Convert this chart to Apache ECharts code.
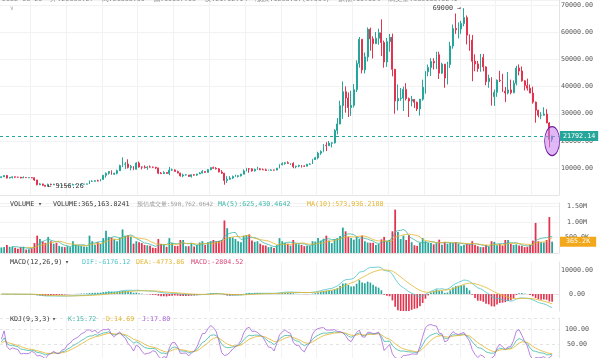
<!DOCTYPE html>
<html>
<head>
<meta charset="utf-8">
<title>BTC/USDT weekly</title>
<script src="https://cdn.jsdelivr.net/npm/echarts@6.0.0/dist/echarts.min.js"></script>
<style>
html,body{margin:0;padding:0;background:#ffffff;}
#chart{width:600px;height:358px;}
</style>
</head>
<body>
<div id="chart"></div>
<script>
// ---------------- data ----------------
const startDate = '2018-08-20';           // first weekly candle
// [open, high, low, close]
const candles = [
[6480,6880,6260,6700],[6700,7200,6660,7190],[7190,7410,6100,6250],[6250,6600,6150,6520],[6520,6820,6100,6700],
[6700,6800,6350,6580],[6580,6700,6450,6560],[6560,6700,6150,6300],[6300,6900,6300,6450],[6450,6500,6350,6400],
[6400,6500,6250,6400],[6400,6600,6200,6350],[6350,6500,5200,5550],[5550,5600,3550,3800],[3800,4400,3650,4100],
[4100,4150,3300,3600],[3600,3600,3156.26,3200],[3200,4200,3200,3950],[3950,4200,3550,3800],[3800,4100,3650,4050],
[4050,4100,3450,3550],[3550,3700,3500,3550],[3550,3650,3450,3550],[3550,3560,3350,3450],[3450,3700,3380,3650],
[3650,3700,3550,3650],[3650,4200,3650,3850],[3850,3950,3700,3850],[3850,3950,3700,3900],[3900,4050,3800,4000],
[4000,4100,3900,4000],[4000,4150,3950,4100],[4100,5350,4100,5050],[5050,5450,4950,5050],[5050,5400,5000,5300],
[5300,5650,5050,5150],[5150,5900,5100,5750],[5750,7400,5650,7250],[7250,8350,6400,8000],[8000,8800,7500,8700],
[8700,9100,7450,7650],[7650,8250,7450,8000],[8000,9350,7600,8950],[8950,11200,8950,10850],[10850,13880,10300,11350],
[11350,12200,9600,11450],[11450,13200,9800,10200],[10200,11100,9100,10550],[10550,10700,9150,9500],[9500,12100,9400,11800],
[11800,12350,10100,10350],[10350,10550,9450,10300],[10300,10950,9750,10150],[10150,10650,9300,10350],[10350,10900,10150,10300],
[10300,10450,9950,10280],[10280,10350,9600,10000],[10000,10050,7700,8050],[8050,8500,7750,7870],[7870,8800,7800,8300],
[8300,8400,7850,7950],[7950,10370,7300,9200],[9200,9800,8900,9250],[9250,9500,8700,8700],[8700,9000,8050,8100],
[8100,8200,6800,7050],[7050,7900,6550,7400],[7400,7750,7200,7400],[7400,7400,6800,6850],[6850,7550,6430,7500],
[7500,7700,7100,7350],[7350,7850,7050,7750],[7750,8450,7750,8100],[8100,9200,8000,8650],[8650,8700,8250,8350],
[8350,9600,8300,9350],[9350,10150,9150,10100],[10100,10500,9700,9900],[9900,10300,9450,9650],[9650,9950,8400,8500],
[8500,9180,7800,8050],[8050,8150,3800,5350],[5350,6950,4450,5800],[5800,6950,5700,6250],[6250,7200,5900,6800],
[6800,7480,6700,6850],[6850,7300,6450,7100],[7100,7800,6800,7700],[7700,9450,7650,8900],[8900,10050,8700,9700],
[9700,9950,8200,9650],[9650,9850,8650,8900],[8900,9750,8650,9450],[9450,10400,9300,9650],[9650,10000,9150,9350],
[9350,9800,9200,9300],[9300,9750,8850,9050],[9050,9350,8950,9100],[9100,9480,9050,9250],[9250,9300,9000,9200],
[9200,10000,9150,9900],[9900,11400,9900,11200],[11200,12050,10950,11650],[11650,12200,11150,11900],[11900,12450,11500,11650],
[11650,11800,11100,11700],[11700,12100,9900,10450],[10450,10800,9850,10650],[10650,11150,10250,10950],[10950,10950,10150,10700],
[10700,10950,10400,10650],[10650,11500,10550,11350],[11350,11700,11200,11450],[11450,13350,11450,13100],[13100,14100,12950,13750],
[13750,15950,13200,15450],[15450,16500,14800,16100],[16100,18800,15800,18350],[18350,19500,16200,18200],[18200,19900,18100,19150],
[19150,19450,17600,19250],[19250,24300,19000,23850],[23850,28400,22350,26250],[26250,34800,26100,33000],[33000,41950,28100,38150],
[38150,40100,30400,35800],[35800,37850,28800,32300],[32300,38500,29200,33100],[33100,40950,32300,38900],[38900,49700,38000,48600],
[48600,58350,47000,57500],[57500,57550,44900,46200],[46200,52600,44900,51000],[51000,61850,49300,61200],[61200,61800,53300,57650],
[57650,58600,50400,55900],[55900,60200,55700,57900],[57900,61400,55500,59900],[59900,64850,51300,56300],[56300,57000,47000,49100],
[49100,58000,47300,56600],[56600,59500,52900,58250],[58250,59600,43800,46400],[46400,46600,30000,34700],[34700,40850,31200,35650],
[35650,39500,34800,35800],[35800,40000,31000,39000],[39000,41300,34900,35600],[35600,36000,28800,34700],[34700,36600,32700,35300],
[35300,35400,32100,34250],[34250,34500,31000,31800],[31800,35450,29300,35400],[35400,42600,34800,39800],[39800,45850,37400,45500],
[45500,48150,43800,47100],[47100,50500,43950,49300],[49300,50500,46350,48800],[48800,52900,46500,51800],[51800,52900,42850,45000],
[45000,48850,44700,48300],[48300,48400,39600,43200],[43200,49200,40800,48200],[48200,56550,46900,55000],[55000,62950,54000,61500],
[61500,67000,59500,61000],[61000,63700,57800,61300],[61300,64300,59500,63300],[63300,69000,62300,65500],[65500,66300,55600,59000],
[59000,59300,53250,57200],[57200,59100,42000,49400],[49400,51950,45700,48400],[48400,49500,45500,46700],[46700,52100,45500,50800],
[50800,52100,45650,47300],[47300,47500,40500,41850],[41850,44450,39600,43100],[43100,43500,33000,36300],[36300,38950,32900,37900],
[37900,42650,36250,42400],[42400,45850,41700,42200],[42200,44750,38000,38350],[38350,39850,34300,37700],[37700,45400,37150,38800],
[38800,42600,37150,37800],[37800,42350,37550,41300],[41300,47700,40450,46850],[46850,48200,44200,45800],[45800,47450,41850,42150],
[42150,42400,38600,40400],[40400,42950,38550,39450],[39450,40800,37600,37650],[37650,40000,33700,34300],[34300,34500,26700,31300],
[31300,31450,28650,29450],[29450,30600,28000,29450],[29450,32400,29300,29900],[29900,31700,26550,26600],[26600,26900,17600,20550],
[20550,21900,19650,21792.14]
];
// weekly volume, thousands of BTC
const volumesK = [
180,190,260,200,210,170,140,190,200,110,
120,150,320,560,450,380,330,520,380,300,
330,230,200,190,220,190,380,260,250,230,
210,200,560,380,270,350,290,480,720,520,
500,440,380,500,760,560,580,520,300,380,
350,320,260,250,230,170,160,450,290,270,
200,480,330,230,230,420,420,220,220,320,
210,260,340,380,260,350,380,420,380,390,
420,1050,800,520,500,450,380,350,560,580,
600,400,360,380,300,250,240,190,200,160,
250,480,380,330,300,240,420,300,280,260,
220,230,230,380,370,480,400,460,560,400,
320,450,480,550,820,700,520,480,430,520,
450,560,380,340,330,330,260,290,440,520,
390,420,700,1400,680,450,560,420,580,350,
250,230,330,480,380,330,320,280,330,430,
270,350,300,330,330,350,300,230,260,300,
280,380,260,220,190,190,260,210,380,360,
250,290,240,420,420,290,260,280,240,230,
190,200,260,400,970,380,350,340,420,1160,
365.1638241
];
const lastPrice = 21792.14;
const lastVolumeK = 365.1638241;
const highMark = 69000;
const lowMark = 3156.26;
const priceTicks = [10000, 20000, 30000, 40000, 50000, 60000, 70000];
const volumeTicksK = [500, 1000, 1500];
const macdTicks = [0, 10000];
const kdjTicks = [50, 100];
const mainHeader = '2022-06-20  开:20553.27  高:21868.00  低:19637.03  收:21792.14  涨跌:1238.87(6.03%)  振幅:10.60%  成交量:365163.8241';
const volumeHeader = ['VOLUME', '▾', 'VOLUME:365,163.8241', '预估成交量:598,762.0642', 'MA(5):625,430.4642', 'MA(10):573,936.2108'];
const macdHeader = ['MACD(12,26,9)', '▾', 'DIF:-6176.12', 'DEA:-4773.86', 'MACD:-2804.52'];
const kdjHeader = ['KDJ(9,3,3)', '▾', 'K:15.72', 'D:14.69', 'J:17.80'];

// ---------------- derived ----------------
const N = candles.length;
const categories = [];
const t0 = new Date(startDate + 'T00:00:00Z').getTime();
for (let i = 0; i < N; i++) categories.push(new Date(t0 + i * 7 * 86400000).toISOString().slice(0, 10));
categories.push('pad-1', 'pad-2');

const opens = candles.map(c => c[0]);
const highs = candles.map(c => c[1]);
const lows = candles.map(c => c[2]);
const closes = candles.map(c => c[3]);

function ema(arr, n) {
  const k = 2 / (n + 1), out = [];
  arr.forEach((v, i) => out.push(i === 0 ? v : out[i - 1] * (1 - k) + v * k));
  return out;
}
function ma(arr, n) {
  return arr.map((_, i) => {
    if (i < n - 1) return '-';
    let s = 0; for (let j = i - n + 1; j <= i; j++) s += arr[j];
    return s / n;
  });
}
const e12 = ema(closes, 12), e26 = ema(closes, 26);
const dif = closes.map((_, i) => e12[i] - e26[i]);
const dea = ema(dif, 9);
const macd = dif.map((d, i) => 2 * (d - dea[i]));

const kArr = [], dArr = [], jArr = [];
let pk = 50, pd = 50;
for (let i = 0; i < N; i++) {
  let lo = Infinity, hi = -Infinity;
  for (let j = Math.max(0, i - 8); j <= i; j++) { lo = Math.min(lo, lows[j]); hi = Math.max(hi, highs[j]); }
  const rsv = hi === lo ? 50 : (closes[i] - lo) / (hi - lo) * 100;
  const k = (2 * pk + rsv) / 3, d = (2 * pd + k) / 3;
  kArr.push(k); dArr.push(d); jArr.push(3 * k - 2 * d);
  pk = k; pd = d;
}
const ma5 = ma(volumesK, 5), ma10 = ma(volumesK, 10);

const UP = '#26a69a', DOWN = '#e2344f';
const TEAL = '#3bb8a8', YELLOW = '#e3b52b', PURPLE = '#a763d8', PINK = '#d9467a', CYAN = '#4ec3c9';
const FONT = "'DejaVu Sans Mono', monospace";
const FS = 6.7;

const candleData = candles.map(c => [c[0], c[3], c[2], c[1]]);
const volData = volumesK.map((v, i) => ({ value: v, itemStyle: { color: closes[i] >= opens[i] ? UP : DOWN } }));

const gridsPos = [
  { top: 0, height: 195 },
  { top: 203, height: 50 },
  { top: 262, height: 49 },
  { top: 318, height: 48 }
];

const xAxes = gridsPos.map((g, i) => ({
  type: 'category', gridIndex: i, data: categories, boundaryGap: true,
  axisLabel: { show: false }, axisTick: { show: false },
  axisLine: { show: true, lineStyle: { color: '#e6e6e6', width: 1 } },
  splitLine: { show: true, interval: (idx) => idx % 13 === 11, lineStyle: { color: '#f2f2f2', width: 1 } }
}));

const labelBase = { color: '#555', fontSize: FS, fontFamily: FONT, margin: 18, align: 'center' };
const yLine = { show: true, lineStyle: { color: '#e3e3e3', width: 1 } };

const yAxes = [
  { type: 'value', gridIndex: 0, position: 'right', min: 0, max: 72000, interval: 10000,
    axisLine: yLine, axisTick: { show: false },
    axisLabel: Object.assign({}, labelBase, { showMinLabel: false, showMaxLabel: false, formatter: v => priceTicks.includes(v) ? v.toFixed(2) : '' }),
    splitLine: { show: true, lineStyle: { color: '#f2f2f2' } } },
  { type: 'value', gridIndex: 1, position: 'right', min: 0, max: 1613, interval: 500,
    axisLine: yLine, axisTick: { show: false },
    axisLabel: Object.assign({}, labelBase, { showMinLabel: false, showMaxLabel: false,
      formatter: v => !volumeTicksK.includes(v) ? '' : (v >= 1000 ? (v / 1000).toFixed(2) + 'M' : v.toFixed(1) + 'K') }),
    splitLine: { show: true, lineStyle: { color: '#f2f2f2' } } },
  { type: 'value', gridIndex: 2, position: 'right', min: -7000, max: 13300,
    axisLine: yLine, axisTick: { show: false, customValues: macdTicks },
    axisLabel: Object.assign({}, labelBase, { customValues: macdTicks, formatter: v => v.toFixed(2) }),
    splitLine: { show: false } },
  { type: 'value', gridIndex: 3, position: 'right', min: 0, max: 141, interval: 50,
    axisLine: yLine, axisTick: { show: false },
    axisLabel: Object.assign({}, labelBase, { showMinLabel: false, showMaxLabel: false, formatter: v => kdjTicks.includes(v) ? v.toFixed(2) : '' }),
    splitLine: { show: true, lineStyle: { color: '#e4e4e4', type: [3, 3] } } }
];

function txt(x, y, text, fill, size) {
  return { type: 'text', x: x, y: y, silent: true, z: 100,
    style: { text: text, fill: fill, font: (size || FS) + 'px ' + FONT, verticalAlign: 'middle', align: 'left' } };
}
const graphics = [
  txt(2, -1, mainHeader, '#8a8a8a'),
  txt(10, 8, '∨', '#aaaaaa', 6),
  txt(10, 204, volumeHeader[0], '#333'), txt(38, 204, volumeHeader[1], '#555'),
  txt(53, 204, volumeHeader[2], '#333'), txt(137, 204, volumeHeader[3], '#9a9a9a', 5.9),
  txt(218, 204, volumeHeader[4], TEAL), txt(307, 204, volumeHeader[5], YELLOW),
  txt(10, 262, macdHeader[0], '#333'), txt(65, 262, macdHeader[1], '#555'),
  txt(82, 262, macdHeader[2], CYAN), txt(136, 262, macdHeader[3], YELLOW), txt(191, 262, macdHeader[4], PINK),
  txt(10, 319, kdjHeader[0], '#333'), txt(52, 319, kdjHeader[1], '#555'),
  txt(68, 319, kdjHeader[2], TEAL), txt(106, 319, kdjHeader[3], YELLOW), txt(142, 319, kdjHeader[4], PURPLE)
];

const idxHigh = highs.indexOf(highMark), idxLow = lows.indexOf(lowMark);

const option = {
  animation: false,
  backgroundColor: '#ffffff',
  textStyle: { fontFamily: FONT },
  grid: gridsPos.map(g => ({ left: 0, right: 41, top: g.top, height: g.height, containLabel: false })),
  xAxis: xAxes,
  yAxis: yAxes,
  graphic: graphics,
  series: [
    { type: 'candlestick', xAxisIndex: 0, yAxisIndex: 0, data: candleData, barMaxWidth: 2.2,
      itemStyle: { color: UP, color0: DOWN, borderColor: UP, borderColor0: DOWN, borderWidth: 1 },
      markLine: { silent: true, symbol: ['none', 'none'], animation: false,
        lineStyle: { color: UP, type: [3, 3], width: 1 },
        label: { show: true, position: 'end', distance: 1, formatter: () => lastPrice.toFixed(2),
          backgroundColor: UP, color: '#fff', padding: [2, 3, 1, 3], fontSize: FS, fontFamily: FONT },
        data: [{ yAxis: lastPrice }] },
      markPoint: { silent: true, animation: false,
        data: [
          { coord: [categories[N - 1], 19900], symbol: 'circle', symbolSize: [15, 29],
            itemStyle: { color: 'rgba(200,125,240,0.55)', borderColor: '#6a1b9a', borderWidth: 1 }, label: { show: false } },
          { coord: [categories[idxHigh], highMark], symbol: 'circle', symbolSize: 0,
            label: { show: true, position: 'left', distance: 3, formatter: highMark + ' →', color: '#333', fontSize: FS, fontFamily: FONT } },
          { coord: [categories[idxLow], lowMark], symbol: 'circle', symbolSize: 0,
            label: { show: true, position: 'right', distance: 2, formatter: '← ' + lowMark.toFixed(2), color: '#333', fontSize: FS, fontFamily: FONT } }
        ] } },
    { type: 'bar', xAxisIndex: 1, yAxisIndex: 1, data: volData, barWidth: '65%',
      markLine: { silent: true, symbol: ['none', 'none'], animation: false,
        lineStyle: { color: 'rgba(0,0,0,0)', width: 1, type: 'solid' },
        label: { show: true, position: 'end', distance: 1, formatter: () => (lastVolumeK).toFixed(1) + 'K',
          backgroundColor: '#f3a81c', color: '#fff', padding: [2, 6, 1, 6], fontSize: FS, fontFamily: FONT },
        data: [{ yAxis: lastVolumeK }] } },
    { type: 'line', xAxisIndex: 1, yAxisIndex: 1, data: ma5, symbol: 'none', lineStyle: { color: TEAL, width: 0.8 } },
    { type: 'line', xAxisIndex: 1, yAxisIndex: 1, data: ma10, symbol: 'none', lineStyle: { color: YELLOW, width: 0.8 } },
    { type: 'bar', xAxisIndex: 2, yAxisIndex: 2, barWidth: '60%',
      data: macd.map(v => ({ value: v, itemStyle: { color: v >= 0 ? UP : DOWN } })) },
    { type: 'line', xAxisIndex: 2, yAxisIndex: 2, data: dif, symbol: 'none', lineStyle: { color: CYAN, width: 0.8 } },
    { type: 'line', xAxisIndex: 2, yAxisIndex: 2, data: dea, symbol: 'none', lineStyle: { color: YELLOW, width: 0.8 } },
    { type: 'line', xAxisIndex: 3, yAxisIndex: 3, data: kArr, symbol: 'none', lineStyle: { color: TEAL, width: 0.8 } },
    { type: 'line', xAxisIndex: 3, yAxisIndex: 3, data: dArr, symbol: 'none', lineStyle: { color: YELLOW, width: 0.8 } },
    { type: 'line', xAxisIndex: 3, yAxisIndex: 3, data: jArr, symbol: 'none', lineStyle: { color: PURPLE, width: 0.8 } }
  ]
};
const chart = echarts.init(document.getElementById('chart'), null, { renderer: 'canvas' });
chart.setOption(option);
</script>
</body>
</html>
